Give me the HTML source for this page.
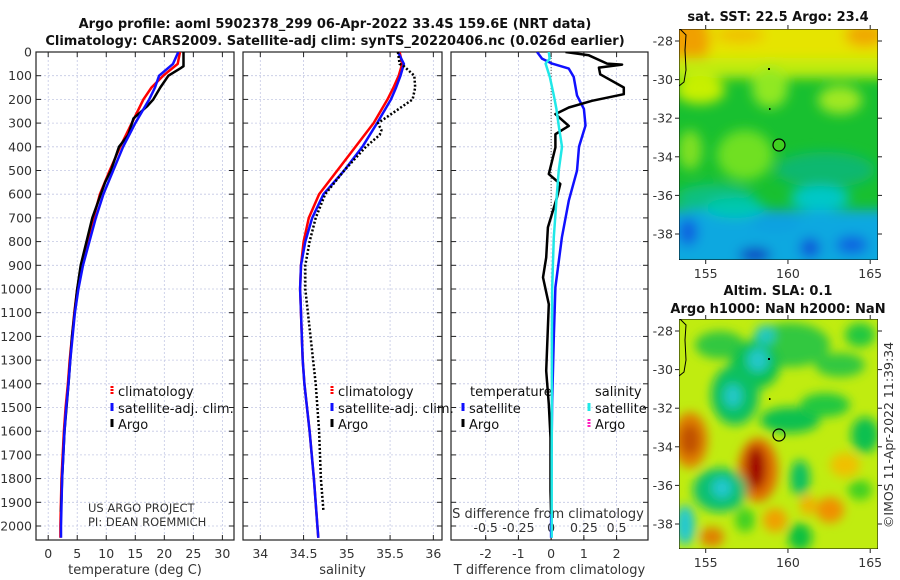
<!DOCTYPE html>
<html><head><meta charset="utf-8">
<style>
html,body{margin:0;padding:0;background:#fff;}
svg{display:block;font-family:"DejaVu Sans","Liberation Sans",sans-serif;}
.tk{font-size:12.5px;fill:#333;}
.tt{font-size:13px;font-weight:bold;fill:#111;}
.lg{font-size:13px;fill:#111;}
</style></head>
<body>
<svg id="fig" width="900" height="580" viewBox="0 0 900 580" xmlns="http://www.w3.org/2000/svg">
<defs>
<filter id="bl" x="-20%" y="-20%" width="140%" height="140%"><feGaussianBlur stdDeviation="6"/></filter>
<filter id="bl2" x="-20%" y="-20%" width="140%" height="140%"><feGaussianBlur stdDeviation="5"/></filter>
<clipPath id="c1"><rect x="679" y="29" width="199" height="231"/></clipPath>
<clipPath id="c2"><rect x="679" y="319" width="199" height="230"/></clipPath>
<clipPath id="p1"><rect x="36" y="52" width="198" height="488"/></clipPath>
<clipPath id="p2"><rect x="243" y="52" width="199" height="488"/></clipPath>
<clipPath id="p3"><rect x="451" y="52" width="197" height="488"/></clipPath>
</defs>
<text class="tt" x="335" y="28" text-anchor="middle">Argo profile: aoml 5902378_299 06-Apr-2022 33.4S 159.6E (NRT data)</text>
<text class="tt" x="335" y="45" text-anchor="middle">Climatology: CARS2009. Satellite-adj clim: synTS_20220406.nc (0.026d earlier)</text>
<g id="axes"></g>
<g id="series"></g>

<!-- SST map -->
<g clip-path="url(#c1)">
  <rect x="679" y="29" width="199" height="231" fill="#18c030"/>
  <g filter="url(#bl)">
    <rect x="660" y="10" width="240" height="55" fill="#e6e400"/>
    <ellipse cx="688" cy="40" rx="22" ry="28" fill="#f0a000"/>
    <ellipse cx="740" cy="35" rx="25" ry="8" fill="#f0c000"/>
    <ellipse cx="865" cy="35" rx="20" ry="12" fill="#f0a800"/>
    <rect x="660" y="58" width="240" height="20" fill="#c0ec10"/>
    <ellipse cx="700" cy="90" rx="25" ry="14" fill="#c8f000"/>
    <ellipse cx="770" cy="88" rx="18" ry="20" fill="#90e820"/>
    <ellipse cx="840" cy="100" rx="22" ry="14" fill="#a0e820"/>
    <ellipse cx="745" cy="155" rx="28" ry="25" fill="#70e020"/>
    <ellipse cx="690" cy="150" rx="12" ry="20" fill="#80e020"/>
    <ellipse cx="825" cy="170" rx="50" ry="18" fill="#10b870"/>
    <ellipse cx="715" cy="198" rx="40" ry="14" fill="#10c080"/>
    <rect x="660" y="210" width="240" height="60" fill="#10a8e0"/>
    <ellipse cx="735" cy="208" rx="30" ry="10" fill="#00c8b0"/>
    <ellipse cx="820" cy="198" rx="30" ry="12" fill="#00c8c8"/>
    <ellipse cx="688" cy="232" rx="10" ry="14" fill="#1060e0"/>
    <ellipse cx="755" cy="255" rx="16" ry="7" fill="#1030c0"/>
    <ellipse cx="810" cy="248" rx="10" ry="10" fill="#1050d8"/>
    <ellipse cx="852" cy="245" rx="16" ry="9" fill="#1060e0"/>
    <ellipse cx="775" cy="222" rx="25" ry="10" fill="#10a0e0"/>
  </g>
  <path d="M680,29 L686,35 L685,50 L686,70 L684,82 L679,86" fill="none" stroke="#000" stroke-width="1"/>
  <rect x="768" y="68" width="2" height="2" fill="#000"/>
  <rect x="769" y="108" width="1.5" height="2" fill="#000"/>
  <circle cx="779" cy="145" r="6" fill="#40d020" stroke="#000" stroke-width="1.2"/>
  <rect x="679" y="29" width="199" height="231" fill="none" stroke="#000" stroke-width="1"/>
</g>
<!-- SLA map -->
<g clip-path="url(#c2)">
  <rect x="679" y="319" width="199" height="230" fill="#c0ec10"/>
  <g filter="url(#bl2)">
    <ellipse cx="790" cy="345" rx="40" ry="22" fill="#30c840"/>
    <ellipse cx="720" cy="345" rx="25" ry="14" fill="#30c840"/>
    <ellipse cx="755" cy="365" rx="25" ry="24" fill="#10c050"/>
    <ellipse cx="758" cy="360" rx="11" ry="12" fill="#20c8c8"/>
    <ellipse cx="735" cy="395" rx="24" ry="30" fill="#10c060"/>
    <ellipse cx="733" cy="396" rx="9" ry="12" fill="#20c8c8"/>
    <ellipse cx="790" cy="420" rx="30" ry="13" fill="#10c050"/>
    <ellipse cx="825" cy="405" rx="25" ry="12" fill="#20c840"/>
    <ellipse cx="865" cy="435" rx="14" ry="18" fill="#10c050"/>
    <ellipse cx="840" cy="365" rx="25" ry="12" fill="#30c840"/>
    <ellipse cx="860" cy="335" rx="15" ry="12" fill="#20c840"/>
    <ellipse cx="765" cy="335" rx="10" ry="10" fill="#20c8c0"/>
    <ellipse cx="690" cy="440" rx="18" ry="28" fill="#e08000"/>
    <ellipse cx="690" cy="440" rx="10" ry="16" fill="#c05000"/>
    <ellipse cx="758" cy="470" rx="20" ry="32" fill="#e07000"/>
    <ellipse cx="756" cy="468" rx="10" ry="22" fill="#a00000"/>
    <ellipse cx="775" cy="520" rx="12" ry="12" fill="#f0a000"/>
    <ellipse cx="720" cy="490" rx="27" ry="22" fill="#10c070"/>
    <ellipse cx="722" cy="488" rx="10" ry="10" fill="#20c8d0"/>
    <ellipse cx="685" cy="525" rx="10" ry="20" fill="#20c8d0"/>
    <ellipse cx="712" cy="537" rx="12" ry="10" fill="#e08000"/>
    <ellipse cx="800" cy="478" rx="10" ry="18" fill="#10c060"/>
    <ellipse cx="808" cy="505" rx="8" ry="10" fill="#f0b000"/>
    <ellipse cx="830" cy="510" rx="14" ry="13" fill="#f09000"/>
    <ellipse cx="800" cy="537" rx="12" ry="14" fill="#10c040"/>
    <ellipse cx="845" cy="465" rx="15" ry="12" fill="#f0c000"/>
    <ellipse cx="860" cy="490" rx="12" ry="10" fill="#40d020"/>
    <ellipse cx="745" cy="520" rx="10" ry="12" fill="#40d020"/>
  </g>
  <path d="M680,319 L686,325 L685,340 L686,360 L684,372 L679,376" fill="none" stroke="#000" stroke-width="1"/>
  <rect x="768" y="358" width="2" height="2" fill="#000"/>
  <rect x="769" y="398" width="1.5" height="2" fill="#000"/>
  <circle cx="779" cy="435" r="6" fill="none" stroke="#000" stroke-width="1.2"/>
  <rect x="679" y="319" width="199" height="230" fill="none" stroke="#000" stroke-width="1"/>
</g>
<g id="mapaxes"></g>
<text class="tt" x="778" y="21" text-anchor="middle">sat. SST: 22.5 Argo: 23.4</text>
<text class="tt" x="778" y="295" text-anchor="middle">Altim. SLA: 0.1</text>
<text class="tt" x="778" y="313" text-anchor="middle">Argo h1000: NaN h2000: NaN</text>
<text class="tk" transform="translate(893,435) rotate(-90)" text-anchor="middle">©IMOS 11-Apr-2022 11:39:34</text>
</svg>
<script>
// ---- data ----
const depthTicks = [0,100,200,300,400,500,600,700,800,900,1000,1100,1200,1300,1400,1500,1600,1700,1800,1900,2000];
const tempTicks = [0,5,10,15,20,25,30];
const salTicks = [34,34.5,35,35.5,36];
const tdiffTicks = [-2,-1,0,1,2];
const sdiffTicks = [-0.5,-0.25,0,0.25,0.5];
const sdiffTickLabels = ["-0.5","-0.25","0","0.25","0.5"];

const climDepth = [0,50,100,150,200,300,400,500,600,700,800,900,1000,1100,1200,1300,1400,1500,1600,1800,2000,2050];
const tClim = [22.7,22.3,19.8,17.8,16.4,14.4,12.4,10.6,8.9,7.8,6.7,5.8,5.0,4.5,4.1,3.7,3.4,3.0,2.7,2.3,2.1,2.1];
const tSat  = [22.4,21.5,19.1,18.4,17.4,15.0,12.9,11.2,9.5,8.2,7.1,6.0,5.2,4.6,4.2,3.8,3.5,3.1,2.8,2.4,2.2,2.2];
const sClim = [35.61,35.64,35.60,35.54,35.47,35.31,35.10,34.89,34.68,34.56,34.50,34.47,34.46,34.47,34.48,34.49,34.51,34.54,34.57,34.62,34.66,34.67];
const sSat  = [35.59,35.66,35.62,35.57,35.51,35.35,35.18,34.97,34.73,34.60,34.52,34.47,34.46,34.47,34.48,34.49,34.51,34.54,34.57,34.62,34.66,34.67];

const argoDepth = [0,60,70,100,150,200,230,280,350,400,500,550,700,900,1000,1200,1400,1600,1800,1940];
const tArgo = [23.3,23.3,22.7,20.7,19.3,18.1,17.0,14.7,13.8,12.2,10.8,9.8,7.6,5.6,5.0,4.1,3.5,2.8,2.4,2.2];
const sArgoDepth = [0,50,60,100,150,200,250,300,330,350,400,500,600,700,800,900,1000,1400,1600,1800,1940];
const sArgo = [35.59,35.61,35.66,35.78,35.79,35.76,35.56,35.36,35.40,35.38,35.22,34.97,34.75,34.64,34.57,34.52,34.52,34.64,34.68,34.70,34.73];

const dDepth = [0,14,49,53,66,94,150,178,206,234,262,312,347,403,515,557,613,740,867,951,1064,1345,1486,1627,1767,1852,1950];
const tDiffArgo = [0.44,1.15,1.71,2.17,1.46,1.5,2.22,2.22,1.25,0.54,0.13,0.54,0.13,0.13,-0.07,0.28,0.18,-0.1,-0.15,-0.25,-0.07,-0.15,-0.07,-0.02,-0.02,-0.02,0];
const satDepth = [0,28,49,70,105,183,240,310,400,501,627,782,993,1204,1486,1700,2000,2050];
const tDiffSat = [-0.43,-0.28,0.03,0.54,0.69,0.79,1.0,1.05,0.85,0.79,0.54,0.33,0.13,0.08,0.03,0.01,0,0];
const sDiffSat = [-0.018,-0.012,-0.042,-0.03,-0.01,0.02,0.04,0.058,0.083,0.058,0.04,0.02,0.008,0.006,0.006,0.004,0.004,0.004];

// ---- axes ----
const NS='http://www.w3.org/2000/svg';
const yTop=52, yBot=540, yPerM=0.237;
function yS(d){return yTop + d*yPerM;}
const P1={x0:36,x1:234,v0:-2.1,v1:32};
const P2={x0:243,x1:442,v0:33.8,v1:36.1};
const P3={x0:451,x1:648,v0:-3.06,v1:2.96};
function xS(P,v){return P.x0+(v-P.v0)/(P.v1-P.v0)*(P.x1-P.x0);}
function xSd(v){return xS(P3,v*4);}

const axes=document.getElementById('axes');
const series=document.getElementById('series');
function el(tag,attrs,parent){const e=document.createElementNS(NS,tag);for(const k in attrs)e.setAttribute(k,attrs[k]);(parent||axes).appendChild(e);return e;}

function panel(P,name,xt,xlabels,xtitle,showY){
  const g=el('g',{});
  
  
  depthTicks.forEach(d=>{
    const y=yS(d);
    el('line',{x1:P.x0,x2:P.x1,y1:y,y2:y,stroke:'#c4c8e4','stroke-width':0.8,'stroke-dasharray':'2,2'},g);
    el('line',{x1:P.x0,x2:P.x0+5,y1:y,y2:y,stroke:'#222'},g);
    el('line',{x1:P.x1-5,x2:P.x1,y1:y,y2:y,stroke:'#222'},g);
    if(showY){const t=el('text',{x:P.x0-4,y:y+4.5,'text-anchor':'end',class:'tk'},g);t.textContent=d;
      
      }
  });
  xt.forEach((v,i)=>{
    const x=xS(P,v);
    el('line',{x1:x,x2:x,y1:yTop,y2:yBot,stroke:'#c4c8e4','stroke-width':0.8,'stroke-dasharray':'2,2'},g);
    el('line',{x1:x,x2:x,y1:yBot,y2:yBot-5,stroke:'#222'},g);
    el('line',{x1:x,x2:x,y1:yTop,y2:yTop+5,stroke:'#222'},g);
    const t=el('text',{x:x,y:558,'text-anchor':'middle',class:'tk'},g);t.textContent=xlabels[i];
    
    
  });
  el('rect',{x:P.x0,y:yTop,width:P.x1-P.x0,height:yBot-yTop,fill:'none',stroke:'#222','stroke-width':1.2},g);
  const tt=el('text',{x:(P.x0+P.x1)/2,y:574,'text-anchor':'middle',class:'tk',style:'font-size:13px'},g);tt.textContent=xtitle;
  
  
}
panel(P1,'temperature-panel',tempTicks,tempTicks.map(String),'temperature (deg C)',true);
panel(P2,'salinity-panel',salTicks,salTicks.map(String),'salinity',false);
panel(P3,'difference-panel',tdiffTicks,tdiffTicks.map(String),'T difference from climatology',false);
sdiffTicks.forEach((v,i)=>{
  const x=xSd(v);
  el('line',{x1:x,x2:x,y1:yBot,y2:yBot-3,stroke:'#222'});
  const t=el('text',{x:x,y:532,'text-anchor':'middle',class:'tk'});t.textContent=sdiffTickLabels[i];
  
  
});
{const t=el('text',{x:548,y:518,'text-anchor':'middle',class:'tk',style:'font-size:13px'});t.textContent='S difference from climatology';

}
el('line',{x1:xS(P3,0),x2:xS(P3,0),y1:yTop,y2:yS(700),stroke:'#555','stroke-width':1,'stroke-dasharray':'1,2'});

// ---- series ----
function line(P,xs,ds,fx,color,w,dash,name,clip){
  const pts=xs.map((v,i)=>fx(v).toFixed(1)+','+yS(ds[i]).toFixed(1)).join(' ');
  const p=el('polyline',{points:pts,fill:'none',stroke:color,'stroke-width':w,'stroke-linejoin':'round','clip-path':'url(#'+clip+')'},series);
  if(dash)p.setAttribute('stroke-dasharray',dash);
  
  
}
line(P1,tClim,climDepth,v=>xS(P1,v),'#ff0000',2.5,null,'temperature-climatology-line','p1');
line(P1,tArgo,argoDepth,v=>xS(P1,v),'#000000',2.5,null,'temperature-argo-line','p1');
line(P1,tSat,climDepth,v=>xS(P1,v),'#1010ff',2.5,null,'temperature-satellite-line','p1');
line(P2,sClim,climDepth,v=>xS(P2,v),'#ff0000',2.5,null,'salinity-climatology-line','p2');
line(P2,sSat,climDepth,v=>xS(P2,v),'#1010ff',2.5,null,'salinity-satellite-line','p2');
line(P2,sArgo,sArgoDepth,v=>xS(P2,v),'#000000',2.5,'2,2','salinity-argo-line','p2');
line(P3,tDiffSat,satDepth,v=>xS(P3,v),'#1010ff',2.5,null,'t-diff-satellite-line','p3');
line(P3,tDiffArgo,dDepth,v=>xS(P3,v),'#000000',2.5,null,'t-diff-argo-line','p3');
line(P3,sDiffSat,satDepth,v=>xSd(v),'#20e8e8',2.5,null,'s-diff-satellite-line','p3');

// ---- legends ----
function legItem(x,y,color,label,name,dash){
  const g=el('g',{},axes);
  
  
  const l=el('line',{x1:x,x2:x,y1:y-10,y2:y-2,stroke:color,'stroke-width':3},g);
  if(dash)l.setAttribute('stroke-dasharray',dash);
  const t=el('text',{x:x+6,y:y,class:'lg'},g);t.textContent=label;
}
legItem(112,396,'#ff0000','climatology','legend-climatology','2,1');
legItem(112,413,'#1010ff','satellite-adj. clim.','legend-satellite');
legItem(112,429,'#000000','Argo','legend-argo');
legItem(332,396,'#ff0000','climatology','legend-climatology-s','2,1');
legItem(332,413,'#1010ff','satellite-adj. clim.','legend-satellite-s');
legItem(332,429,'#000000','Argo','legend-argo-s');
{const t=el('text',{x:470,y:396,class:'lg'});t.textContent='temperature';

const t2=el('text',{x:595,y:396,class:'lg'});t2.textContent='salinity';
}
legItem(463,413,'#1010ff','satellite','legend-t-satellite');
legItem(463,429,'#000000','Argo','legend-t-argo');
legItem(589,413,'#20e8e8','satellite','legend-s-satellite');
legItem(589,429,'#ff20c0','Argo','legend-s-argo','2,1');
{const t=el('text',{x:88,y:512,class:'tk',style:'font-size:11.5px'});t.textContent='US ARGO PROJECT';

const t2=el('text',{x:88,y:526,class:'tk',style:'font-size:11.5px'});t2.textContent='PI: DEAN ROEMMICH';
}

// ---- map axes ----
const lonTicks=[155,160,165];
const latTicks=[-28,-30,-32,-34,-36,-38];
const ma=document.getElementById('mapaxes');
function lonX(l){return 705.7+(l-155)*16.45;}
[[29,260,41],[319,549,331]].forEach(([t0,b0,lat28])=>{
  lonTicks.forEach(l=>{
    const x=lonX(l);
    el('line',{x1:x,x2:x,y1:b0,y2:b0+4,stroke:'#222'},ma);
    el('line',{x1:x,x2:x,y1:t0,y2:t0-4,stroke:'#222'},ma);
    const t=el('text',{x:x,y:b0+18,'text-anchor':'middle',class:'tk'},ma);t.textContent=l;
    
  });
  latTicks.forEach(la=>{
    const y=lat28+(-28-la)*19.3;
    el('line',{x1:675,x2:679,y1:y,y2:y,stroke:'#222'},ma);
    el('line',{x1:878,x2:882,y1:y,y2:y,stroke:'#222'},ma);
    const t=el('text',{x:673,y:y+4.5,'text-anchor':'end',class:'tk'},ma);t.textContent=la;
    
  });
});
</script>
</body></html>
